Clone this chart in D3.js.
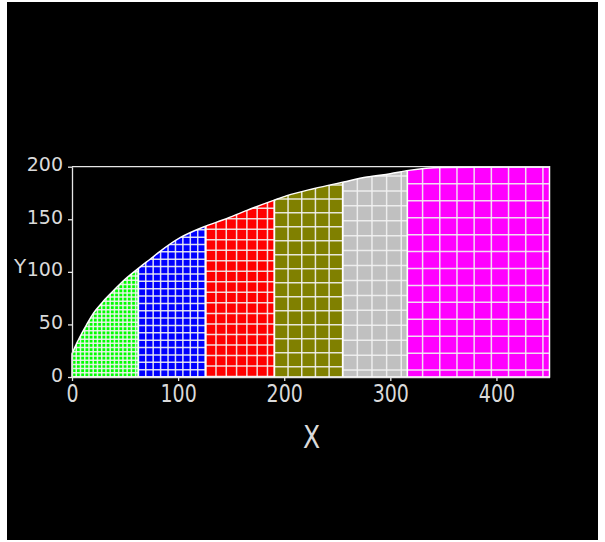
<!DOCTYPE html>
<head>
    <meta charset="utf-8">
    <style> body { margin: 0; background: #fff; } </style>
    <script src="https://d3js.org/d3.v7.min.js"></script>
</head>
<body>
    <div id="chart"></div>
    <script>

        // boundary of the meshed domain (top edge)
        var curveX = [0, 4.4, 7.5, 13.9, 20.1, 29.5, 39, 48.4, 57.8, 65.8, 73.6, 83, 101.9, 123.9, 142.7, 164.8, 189.9, 202.5, 227.6, 256, 278, 300, 317.3, 347, 450];
        var curveY = [22, 32, 38.3, 50, 60.5, 72, 82, 91.5, 99.5, 106, 112, 119.5, 132.5, 142.7, 149.5, 158.5, 168, 172.5, 179.1, 185.4, 190.1, 193.4, 196.5, 199.3, 200];

        // subdomains and their mesh sizes
        var regionX0 = [0, 62.5, 126, 190.7, 255.1, 316];
        var regionX1 = [62.5, 126, 190.7, 255.1, 316, 450];
        var meshStepX = [4, 7, 9.7, 12.9, 13.8, 16.2];
        var meshStepY = [4, 7, 10, 13.3, 14.2, 16.1];
        var meshOffX = [0, 0, 0, 0, 0, 14.4];
        var meshOffY = [0, 0, 0.5, 9.8, 6.6, 6.6];
        var regionColors = ["#00ff00", "#0000ff", "#ff0000", "#808000", "#c0c0c0", "#ff00ff"];

        var xTicks = [0, 100, 200, 300, 400];
        var yTicks = [0, 50, 100, 150, 200];

        var W = 605, H = 542;
        var textCol = "#dadada";

        var svg = d3.select("#chart").append("svg")
            .attr("width", W)
            .attr("height", H)
            .style("display", "block");

        svg.append("rect")
            .attr("x", 7).attr("y", 2)
            .attr("width", 591).attr("height", 538)
            .attr("fill", "#000");

        var x = d3.scaleLinear().domain([0, 450]).range([72, 549.5]);
        var y = d3.scaleLinear().domain([0, 200]).range([377, 166.7]);

        var pts = curveX.map((d, i) => [d, curveY[i]]);

        var area = d3.area()
            .curve(d3.curveMonotoneX)
            .x(d => x(d[0]))
            .y0(y(0))
            .y1(d => y(d[1]));

        svg.append("clipPath").attr("id", "dom")
            .append("path").attr("d", area(pts));

        var mesh = svg.append("g").attr("clip-path", "url(#dom)");

        regionX0.forEach(function(x0, i) {
            var x1 = regionX1[i];
            mesh.append("rect")
                .attr("x", x(x0)).attr("y", y(200))
                .attr("width", x(x1) - x(x0))
                .attr("height", y(0) - y(200))
                .attr("fill", regionColors[i]);

            var g = mesh.append("g")
                .attr("stroke", "#f2f2f2")
                .attr("stroke-opacity", 0.9)
                .attr("stroke-width", 1.5);

            g.selectAll(".v")
                .data(d3.range(x0 + meshOffX[i], x1, meshStepX[i]))
                .join("line")
                .attr("x1", d => x(d)).attr("x2", d => x(d))
                .attr("y1", y(0)).attr("y2", y(200));

            g.selectAll(".h")
                .data(d3.range(meshOffY[i], 200, meshStepY[i]))
                .join("line")
                .attr("x1", x(x0)).attr("x2", x(x1))
                .attr("y1", d => y(d)).attr("y2", d => y(d));
        });

        // subdomain borders
        mesh.selectAll(".sep")
            .data(regionX1.slice(0, -1))
            .join("line")
            .attr("x1", d => x(d)).attr("x2", d => x(d))
            .attr("y1", y(0)).attr("y2", y(200))
            .attr("stroke", "#fff")
            .attr("stroke-width", 1.6);

        // outer boundary
        svg.append("path")
            .attr("d", area(pts))
            .attr("fill", "none")
            .attr("stroke", "#fff")
            .attr("stroke-width", 1.5);

        // frame top line
        svg.append("line")
            .attr("x1", x(0)).attr("x2", x(450))
            .attr("y1", y(200)).attr("y2", y(200))
            .attr("stroke", "#e6e6e6")
            .attr("stroke-width", 1.3);

        var yAxis = svg.append("g")
            .attr("transform", "translate(" + x(0) + ",0)")
            .call(d3.axisLeft(y).tickValues(yTicks).tickSize(4).tickSizeOuter(0).tickPadding(5));

        var xAxis = svg.append("g")
            .attr("transform", "translate(0," + y(0) + ")")
            .call(d3.axisBottom(x).tickValues(xTicks).tickSize(4).tickSizeOuter(0));

        [xAxis, yAxis].forEach(function(a) {
            a.select(".domain").attr("stroke", "#e6e6e6").attr("stroke-width", 1.3);
            a.selectAll(".tick line").attr("stroke", "#e6e6e6").attr("stroke-width", 1.3);
            a.selectAll("text")
                .attr("fill", textCol)
                .style("font-family", "DejaVu Sans")
                .style("font-size", "19px");
        });

        yAxis.selectAll("text").attr("dy", "0.21em");
        xAxis.selectAll("text")
            .attr("y", 0).attr("dy", 0)
            .attr("transform", "translate(0,24.7) scale(1,1.27)");

        svg.append("text")
            .attr("x", 14).attr("y", 272.7)
            .attr("fill", textCol)
            .style("font-family", "DejaVu Sans")
            .style("font-size", "20px")
            .text("Y");

        svg.append("text")
            .attr("text-anchor", "middle")
            .attr("transform", "translate(311.5,448) scale(1,1.27)")
            .attr("fill", textCol)
            .style("font-family", "DejaVu Sans")
            .style("font-size", "25px")
            .text("X");

    </script>
</body>
